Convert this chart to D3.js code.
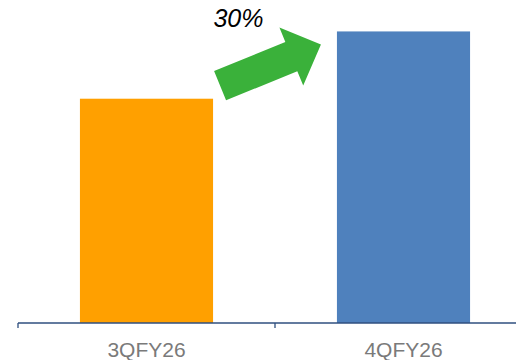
<!DOCTYPE html>
<html>
<head>
<meta charset="utf-8">
<script src="https://cdn.jsdelivr.net/npm/d3@7"></script>
<style>
  body { margin: 0; background: #fff; }
  text { font-family: "Liberation Sans", Arial, sans-serif; }
</style>
</head>
<body>
<div id="chart"></div>
<script>
// data
const categories = ["3QFY26", "4QFY26"];
const values = [100, 130];
const barColors = ["#FFA000", "#4F81BD"];
const growthLabel = "30%";

const W = 516, H = 360;
const margin = { top: 9, right: -16, bottom: 37, left: 18 };
const width = W - margin.left - margin.right,
  height = H - margin.top - margin.bottom;

const svg = d3.select("#chart")
  .append("svg")
  .attr("width", W)
  .attr("height", H)
  .append("g")
  .attr("transform", `translate(${margin.left}, ${margin.top})`);

// scales
const x = d3.scaleBand()
  .domain(categories)
  .range([0, width])
  .paddingInner(0.482)
  .paddingOuter(0.241);

const y = d3.scaleLinear()
  .domain([0, 140])
  .range([height, 0]);

// bars
svg.selectAll("rect.bar")
  .data(categories)
  .join("rect")
  .attr("class", "bar")
  .attr("x", d => x(d))
  .attr("y", (d, i) => y(values[i]))
  .attr("width", x.bandwidth())
  .attr("height", (d, i) => height - y(values[i]))
  .attr("fill", (d, i) => barColors[i]);

// axis line with category dividers
const step = x.step();
const axis = svg.append("g").attr("transform", `translate(0, ${height})`);
axis.append("line")
  .attr("x1", 0).attr("x2", width)
  .attr("stroke", "#2F4F7F").attr("stroke-width", 1.3);
d3.range(categories.length + 1).forEach(i => {
  axis.append("line")
    .attr("x1", i * step).attr("x2", i * step)
    .attr("y1", 0).attr("y2", 5)
    .attr("stroke", "#2F4F7F").attr("stroke-width", 1.3);
});

axis.selectAll("text.cat")
  .data(categories)
  .join("text")
  .attr("class", "cat")
  .attr("x", d => x(d) + x.bandwidth() / 2)
  .attr("y", 33.5)
  .attr("text-anchor", "middle")
  .attr("fill", "#7a7a7a")
  .style("font-size", "21px")
  .text(d => d);

// growth arrow from top of first bar to top of second bar
const x0 = x(categories[0]) + x.bandwidth() + 7,
  y0 = y(values[0]) - 13,
  x1 = x(categories[1]) - 16,
  y1 = y(values[1]) + 13;
const ang = Math.atan2(y1 - y0, x1 - x0) * 180 / Math.PI;
const len = Math.hypot(x1 - x0, y1 - y0);
const headLen = 32, shaftHalf = 15.8, headHalf = 31.4;
const arrowPts = [
  [0, -shaftHalf], [len - headLen, -shaftHalf], [len - headLen, -headHalf],
  [len, 0],
  [len - headLen, headHalf], [len - headLen, shaftHalf], [0, shaftHalf]
];
svg.append("polygon")
  .attr("transform", `translate(${x0}, ${y0}) rotate(${ang})`)
  .attr("points", arrowPts.map(p => p.join(",")).join(" "))
  .attr("fill", "#3AB13A");

svg.append("text")
  .attr("x", (x0 + x1) / 2 - 32)
  .attr("y", 26.7 - margin.top)
  .attr("text-anchor", "middle")
  .attr("fill", "#000")
  .style("font-size", "25px")
  .style("font-style", "italic")
  .text(growthLabel);
</script>
</body>
</html>
